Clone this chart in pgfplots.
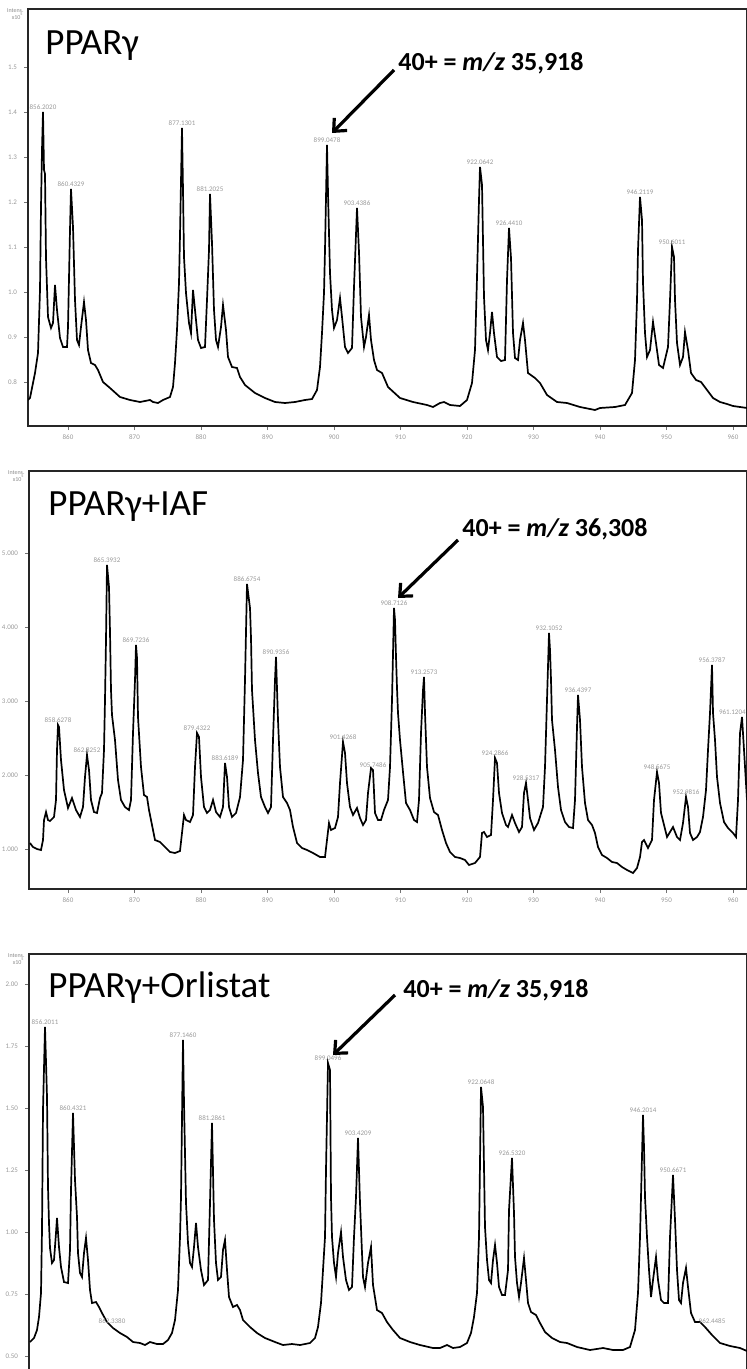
\documentclass[border=0pt]{standalone}
\usepackage{pgfplots}
\pgfplotsset{compat=1.18}
\usetikzlibrary{arrows.meta}
\usepackage{fontspec}
\setmainfont{Carlito}

% 1 px of the reference = 0.5pt; x = position along the m/z scale, y = intensity (arb.)
\pgfplotsset{
  ms/.style={
    scale only axis, xmax=747, ymin=0,
    axis line style={line width=1pt, black!85},
    xtick pos=bottom, ytick pos=left,
    tick align=outside, major tick length=2pt,
    tick style={black!55, line width=0.4pt},
    xtick={68,134.5,201,267.5,334,400.5,467,533.5,600,666.5,733},
    xticklabels={860,870,880,890,900,910,920,930,940,950,960},
    tick label style={font=\fontsize{3.5}{4}\selectfont, text=black!40},
    xticklabel style={yshift=1pt},
  },
  spec/.style={black, line width=0.85pt, sharp plot, mark=none},
}
\tikzset{
  pk/.style={font=\fontsize{3.5}{4}\selectfont, text=black!40, anchor=south, inner sep=1pt},
  ttl/.style={font=\fontsize{18.5}{20}\selectfont, anchor=base west, inner sep=0pt},
  ann/.style={font=\fontsize{13}{15}\selectfont\bfseries, anchor=base west, inner sep=0pt},
  arr/.style={line width=1.6pt, -{Straight Barb[length=5pt, width=9pt]}},
}

\begin{document}
\begin{tikzpicture}
\useasboundingbox (0,0) rectangle (373.5pt,-684.5pt);

% ---------------- PPARg ----------------
\begin{axis}[ms, name=p1, at={(14pt,-4.5pt)}, anchor=north west,
  width=359.5pt, height=208.5pt, xmin=28, ymax=417,
  ytick={44,89,134,179,224,269,314,359},
  yticklabels={0.8,0.9,1.0,1.1,1.2,1.3,1.4,1.5}]
\addplot[spec] coordinates {
(28,26)(30,28)(35,53)(38,73)(40,136)(41,219)(42,276)(43,314)(44,256)(45,252)
(46,168)(48,109)(51,98)(53,103)(55,141)(57,116)(60,88)(63,79)(67,79)(68,99)
(70,196)(71,237)(73,199)(75,126)(77,86)(79,81)(81,99)(84,124)(86,106)(88,76)
(91,63)(95,61)(98,56)(103,44)(110,38)(120,29)(130,26)(140,24)(150,26)(153,24)
(158,23)(163,26)(170,29)(173,39)(175,63)(177,96)(179,143)(180,191)(182,298)(183,236)
(184,169)(186,133)(189,103)(191,93)(193,136)(195,116)(198,86)(201,78)(205,79)(207,126)
(209,176)(210,232)(212,183)(214,116)(216,86)(218,79)(221,99)(223,121)(226,96)(228,69)
(232,59)(237,58)(240,49)(245,41)(255,33)(265,28)(275,24)(285,23)(295,24)(305,26)
(312,27)(317,36)(320,59)(322,93)(324,133)(325,176)(327,281)(328,233)(330,153)(332,116)
(334,98)(337,106)(340,128)(342,109)(345,79)(348,73)(352,78)(354,139)(357,218)(359,174)
(361,109)(364,79)(366,89)(369,111)(371,86)(374,66)(377,56)(382,53)(388,39)(400,28)
(413,24)(427,21)(433,19)(440,23)(444,24)(450,21)(460,20)(467,26)(472,43)(475,76)
(477,149)(479,226)(480,259)(482,241)(484,129)(486,86)(488,76)(490,93)(492,114)(494,93)
(497,69)(501,65)(505,66)(507,146)(509,198)(511,168)(513,93)(515,68)(518,66)(520,86)
(523,103)(525,86)(528,53)(535,48)(540,43)(547,31)(557,24)(567,23)(580,19)(595,16)
(600,18)(615,19)(625,21)(632,33)(635,66)(637,126)(638,176)(640,229)(642,206)(643,143)
(645,93)(647,69)(650,76)(653,104)(656,83)(659,61)(663,58)(668,79)(670,126)(672,179)
(674,169)(675,126)(677,83)(680,61)(683,69)(685,94)(688,76)(691,53)(696,46)(701,44)
(707,36)(713,28)(720,24)(727,22)(733,20)(747,18)
};
\node[pk] at (axis cs:43,314) {856.2020};
\node[pk] at (axis cs:71,237) {860.4329};
\node[pk] at (axis cs:182,298) {877.1301};
\node[pk] at (axis cs:210,232) {881.2025};
\node[pk] at (axis cs:327,281) {899.0478};
\node[pk] at (axis cs:357,218) {903.4386};
\node[pk] at (axis cs:480,259) {922.0642};
\node[pk] at (axis cs:509,198) {926.4410};
\node[pk] at (axis cs:640,229) {946.2119};
\node[pk] at (axis cs:672,179) {950.6011};
\node[ttl] at (axis cs:45,371) {PPARγ};
\node[ann] at (axis cs:398,355) {40+ = \textit{m/z} 35,918};
\draw[arr] (axis cs:394,356) -- (axis cs:332,293);
\end{axis}

% ---------------- PPARg + IAF ----------------
\begin{axis}[ms, name=p2, at={(14.5pt,-235.5pt)}, anchor=north west,
  width=359pt, height=209pt, xmin=29, ymax=418,
  ytick={40,114,188,262,336},
  yticklabels={1.000,2.000,3.000,4.000,5.000}]
\addplot[spec] coordinates {
(30,46)(33,42)(37,40)(41,39)(43,49)(44,69)(46,77)(48,69)(50,68)(54,72)
(56,89)(57,139)(58,164)(59,162)(61,129)(64,99)(68,81)(72,91)(76,79)(80,72)
(83,82)(85,112)(87,134)(89,119)(91,89)(94,77)(97,76)(100,91)(102,96)(104,139)
(105,189)(106,249)(107,324)(109,302)(110,257)(111,199)(112,174)(115,149)(118,109)(121,89)
(125,82)(129,79)(131,89)(133,156)(135,209)(136,244)(137,231)(138,172)(141,122)(144,94)
(147,92)(149,79)(152,64)(155,49)(160,47)(165,42)(170,37)(175,36)(180,38)(182,56)
(184,74)(186,69)(190,67)(193,74)(195,122)(197,156)(199,152)(201,112)(204,82)(207,76)
(210,79)(213,89)(216,77)(220,72)(223,82)(225,126)(227,112)(229,82)(232,72)(236,76)
(240,92)(243,129)(245,209)(247,305)(250,281)(251,251)(252,199)(255,149)(258,116)(261,92)
(265,82)(268,76)(271,82)(273,149)(275,209)(276,232)(278,169)(280,122)(283,92)(287,86)
(290,79)(293,62)(297,46)(302,41)(307,39)(313,36)(320,32)(325,32)(327,49)(329,66)
(331,59)(335,61)(338,72)(340,106)(343,147)(345,136)(347,106)(350,82)(353,74)(357,81)
(360,71)(363,64)(366,69)(368,96)(371,121)(373,119)(375,76)(378,69)(381,69)(384,79)
(388,89)(390,122)(392,189)(394,281)(395,269)(396,232)(397,201)(398,176)(400,149)(403,117)
(406,86)(410,79)(414,69)(417,67)(419,89)(421,156)(423,199)(424,212)(425,176)(427,122)
(430,91)(434,77)(438,74)(442,59)(446,46)(450,37)(455,32)(460,31)(465,29)(469,24)
(475,26)(480,32)(482,56)(484,57)(487,52)(491,54)(493,89)(495,131)(497,126)(499,96)
(502,76)(506,64)(508,62)(512,74)(515,66)(519,57)(522,62)(524,96)(526,106)(528,89)
(530,71)(534,59)(538,66)(543,82)(545,122)(547,189)(549,256)(550,239)(551,209)(552,169)
(555,139)(558,102)(561,79)(565,67)(569,62)(573,61)(575,89)(577,162)(578,194)(580,169)
(582,122)(585,86)(588,69)(592,64)(595,56)(598,42)(602,34)(607,31)(612,27)(617,26)
(622,22)(627,19)(633,16)(637,21)(640,32)(642,47)(644,49)(648,41)(652,49)(654,89)
(657,117)(659,106)(661,76)(664,64)(667,52)(670,57)(673,62)(677,52)(680,49)(683,66)
(686,92)(688,82)(690,56)(693,49)(697,52)(700,57)(703,72)(706,99)(708,139)(710,176)
(712,224)(713,176)(715,149)(717,112)(720,86)(724,67)(728,61)(733,56)(736,52)(738,89)
(740,156)(742,172)(744,139)(747,89)
};
\node[pk] at (axis cs:58,164) {858.6278};
\node[pk] at (axis cs:87,134) {862.8252};
\node[pk] at (axis cs:107,324) {865.3932};
\node[pk] at (axis cs:136,244) {869.7236};
\node[pk] at (axis cs:197,156) {879.4322};
\node[pk] at (axis cs:225,126) {883.6189};
\node[pk] at (axis cs:247,305) {886.6754};
\node[pk] at (axis cs:276,232) {890.9356};
\node[pk] at (axis cs:343,147) {901.4268};
\node[pk] at (axis cs:373,119) {905.7486};
\node[pk] at (axis cs:394,281) {908.7126};
\node[pk] at (axis cs:424,212) {913.2573};
\node[pk] at (axis cs:495,131) {924.2866};
\node[pk] at (axis cs:526,106) {928.5317};
\node[pk] at (axis cs:549,256) {932.1052};
\node[pk] at (axis cs:578,194) {936.4397};
\node[pk] at (axis cs:657,117) {948.5675};
\node[pk] at (axis cs:686,92) {952.9816};
\node[pk] at (axis cs:712,224) {956.3787};
\node[pk, anchor=south east, xshift=3pt] at (axis cs:742,172) {961.1204};
\node[ttl] at (axis cs:48,374) {PPARγ+IAF};
\node[ann] at (axis cs:462,353) {40+ = \textit{m/z} 36,308};
\draw[arr] (axis cs:458,349) -- (axis cs:398,291);
\end{axis}

% ---------------- PPARg + Orlistat ----------------
\begin{axis}[ms, name=p3, at={(14.5pt,-477pt)}, anchor=north west,
  width=359pt, height=210.5pt, xmin=29, ymin=-9, ymax=412,
  xticklabels={},
  ytick={10,72,134,196,258,320,382},
  yticklabels={0.50,0.75,1.00,1.25,1.50,1.75,2.00}]
\addplot[spec] coordinates {
(30,24)(34,28)(37,36)(39,49)(41,73)(42,136)(43,256)(45,339)(47,269)(48,179)
(49,143)(50,118)(52,103)(54,106)(56,133)(57,148)(59,119)(61,99)(64,84)(68,83)
(70,116)(71,176)(73,253)(75,186)(77,149)(78,113)(80,93)(82,89)(84,113)(86,128)
(88,106)(90,76)(92,63)(96,64)(99,59)(102,53)(107,44)(113,38)(120,33)(127,29)
(133,24)(140,23)(145,21)(150,24)(157,22)(163,22)(168,26)(172,33)(175,46)(178,76)
(180,129)(181,169)(183,326)(184,263)(186,163)(188,123)(190,103)(192,99)(194,119)(196,143)
(198,119)(201,96)(204,81)(208,86)(210,163)(212,243)(214,146)(216,103)(218,86)(221,89)
(223,116)(225,126)(227,96)(229,69)(233,59)(237,61)(240,56)(243,46)(250,39)(257,33)
(265,28)(275,24)(283,21)(292,22)(300,21)(310,23)(315,28)(318,39)(321,63)(323,96)
(325,129)(326,196)(328,303)(330,296)(331,169)(332,129)(334,103)(336,89)(338,113)(341,134)
(343,109)(346,86)(349,76)(352,79)(354,129)(356,169)(358,228)(360,163)(362,113)(363,89)
(365,79)(368,103)(371,119)(373,81)(377,56)(382,53)(387,44)(393,36)(400,28)(410,24)
(420,21)(433,18)(440,18)(447,21)(453,18)(460,19)(467,23)(471,33)(474,49)(477,73)
(479,129)(481,279)(483,259)(485,139)(487,106)(489,86)(491,83)(493,106)(495,121)(497,103)
(499,79)(502,71)(505,71)(508,96)(509,156)(512,208)(514,153)(515,109)(517,83)(519,69)
(521,83)(524,108)(526,86)(528,63)(531,54)(536,51)(540,43)(545,34)(552,28)(560,24)
(567,23)(577,19)(590,16)(603,18)(613,16)(623,16)(630,19)(635,36)(638,73)(640,129)
(641,169)(643,251)(644,219)(645,169)(647,129)(649,96)(651,69)(653,86)(656,109)(658,86)
(661,66)(664,63)(668,63)(670,129)(673,191)(675,146)(677,96)(679,66)(681,63)(683,83)
(686,98)(688,79)(691,53)(695,44)(700,44)(705,39)(712,31)(720,23)(730,20)(740,18)
(747,15)
};
\node[pk] at (axis cs:45,339) {856.2011};
\node[pk] at (axis cs:73,253) {860.4321};
\node[pk] at (axis cs:183,326) {877.1460};
\node[pk] at (axis cs:212,243) {881.2861};
\node[pk] at (axis cs:328,303) {899.0496};
\node[pk] at (axis cs:358,228) {903.4209};
\node[pk] at (axis cs:481,279) {922.0648};
\node[pk] at (axis cs:512,208) {926.5320};
\node[pk] at (axis cs:643,251) {946.2014};
\node[pk] at (axis cs:673,191) {950.6671};
\node[pk] at (axis cs:112,40) {862.3380};
\node[pk] at (axis cs:712,40) {962.4485};
\node[ttl] at (axis cs:48,369) {PPARγ+Orlistat};
\node[ann] at (axis cs:403,369) {40+ = \textit{m/z} 35,918};
\draw[arr] (axis cs:395,371) -- (axis cs:333,311);
\end{axis}

\foreach \p in {p1,p2,p3}{
  \node[font=\fontsize{3}{3.5}\selectfont, text=black!45, anchor=north east, align=right, inner sep=0.5pt]
    at ([xshift=-1.5pt,yshift=1pt]\p.north west) {Intens.\\x10\textsuperscript{5}};
}
\end{tikzpicture}
\end{document}
